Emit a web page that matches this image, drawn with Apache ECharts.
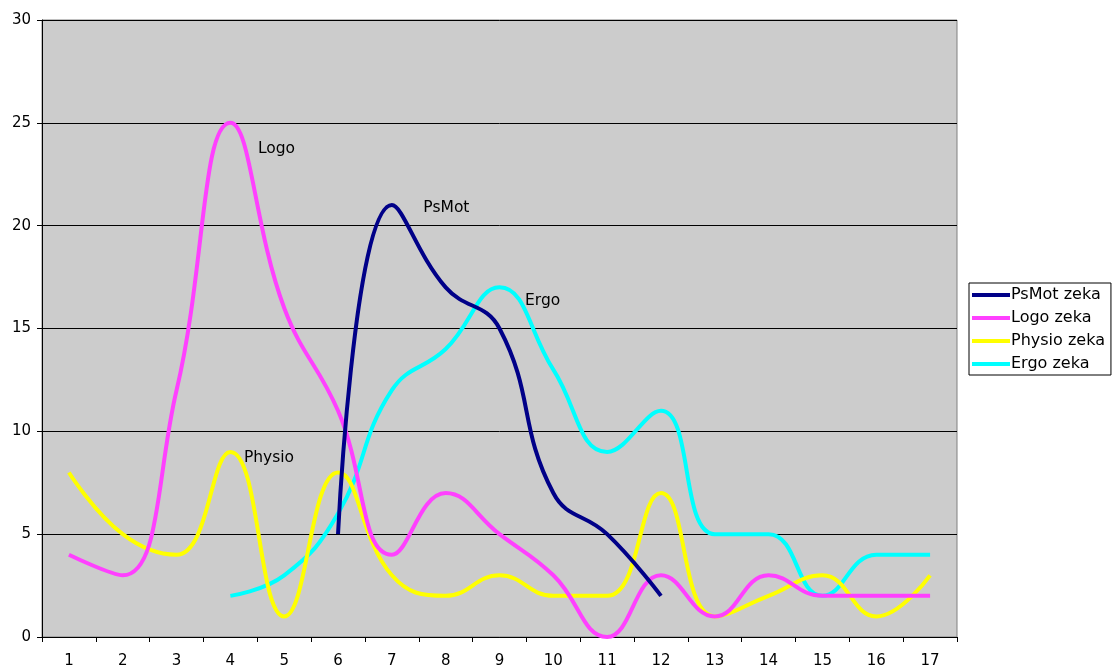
<!DOCTYPE html>
<html>
<head>
<meta charset="utf-8">
<script src="https://cdn.jsdelivr.net/npm/echarts@6/dist/echarts.min.js"></script>
<style>
  html, body { margin: 0; padding: 0; background: #ffffff; }
  #chart { width: 1112px; height: 668px; }
</style>
</head>
<body>
<div id="chart"></div>
<script>
// Categories along the x axis
const categories = ['1','2','3','4','5','6','7','8','9','10','11','12','13','14','15','16','17'];

// Series values (null = no value for that category)
const psMot  = [null, null, null, null, null, 5, 21, 17, 15, 7, 5, 2, null, null, null, null, null];
const logo   = [4, 3, 12, 25, 16, 11, 4, 7, 5, 3, 0, 3, 1, 3, 2, 2, 2];
const physio = [8, 5, 4, 9, 1, 8, 3, 2, 3, 2, 2, 7, 1, 2, 3, 1, 3];
const ergo   = [null, null, null, 2, 3, 6, 12, 14, 17, 13, 9, 11, 5, 5, 2, 4, 4];

const seriesNames = ['PsMot zeka', 'Logo zeka', 'Physio zeka', 'Ergo zeka'];
const seriesColors = ['#000088', '#ff40ff', '#ffff00', '#00ffff'];

// Series name tags: which point carries the tag, and its text
const tags = [
  { index: 6, text: 'PsMot',  offset: [26, 3] },
  { index: 3, text: 'Logo',   offset: [22, 26] },
  { index: 3, text: 'Physio', offset: [8, 6] },
  { index: 8, text: 'Ergo',   offset: [20, 14] }
];

const FONT = 'DejaVu Sans, Verdana, sans-serif';

// Tag each series at one of its own data points
function tagPoint(values, tag) {
  return {
    silent: true,
    symbol: 'circle',
    symbolSize: 1,
    itemStyle: { color: 'rgba(0,0,0,0)' },
    label: {
      show: true,
      position: 'right',
      formatter: tag.text,
      offset: tag.offset,
      color: '#000',
      fontFamily: FONT,
      fontSize: 15.5
    },
    data: [{ coord: [tag.index, values[tag.index]] }]
  };
}

const allValues = [psMot, logo, physio, ergo];

const chart = echarts.init(document.getElementById('chart'), null, { renderer: 'canvas' });

chart.setOption({
  animation: false,
  backgroundColor: '#ffffff',
  grid: {
    left: 42, right: 155, top: 20, bottom: 31,
    outerBoundsMode: 'none',
    containLabel: false,
    show: true,
    backgroundColor: '#cccccc',
    borderColor: '#808080',
    borderWidth: 1
  },
  legend: {
    orient: 'vertical',
    left: 969,
    top: 283,
    width: 141,
    padding: [4, 6, 3, 3],
    itemGap: 7,
    itemWidth: 38,
    itemHeight: 16,
    borderColor: '#000',
    borderWidth: 1,
    backgroundColor: '#fff',
    textStyle: { fontFamily: FONT, fontSize: 16, color: '#000', padding: [0, 0, 0, -4] },
    data: seriesNames.map((n, k) => ({
      name: n,
      icon: 'path://M0,0 L38,0 L38,4 L0,4 Z',
      itemStyle: { color: seriesColors[k], opacity: 1 }
    }))
  },
  xAxis: {
    type: 'category',
    data: categories,
    boundaryGap: true,
    axisLine: { lineStyle: { color: '#000', width: 1 } },
    axisTick: { show: true, length: 5, interval: 0, lineStyle: { color: '#000' } },
    axisLabel: { fontFamily: FONT, fontSize: 15, color: '#000', margin: 17, interval: 0 },
    splitLine: { show: false }
  },
  yAxis: {
    type: 'value',
    min: 0, max: 30, interval: 5,
    axisLine: { show: true, lineStyle: { color: '#000', width: 1 } },
    axisTick: { show: true, length: 5, lineStyle: { color: '#000' } },
    axisLabel: { fontFamily: FONT, fontSize: 15, color: '#000', margin: 11 },
    splitLine: { show: true, lineStyle: { color: '#000', width: 1 } }
  },
  series: allValues.map((vals, k) => ({
    name: seriesNames[k],
    type: 'line',
    data: vals,
    smooth: 0.45,
    showSymbol: false,
    symbol: 'none',
    connectNulls: false,
    lineStyle: { color: seriesColors[k], width: 4 },
    itemStyle: { color: seriesColors[k] },
    markPoint: tagPoint(vals, tags[k]),
    z: 10 - k
  }))
});
</script>
</body>
</html>
